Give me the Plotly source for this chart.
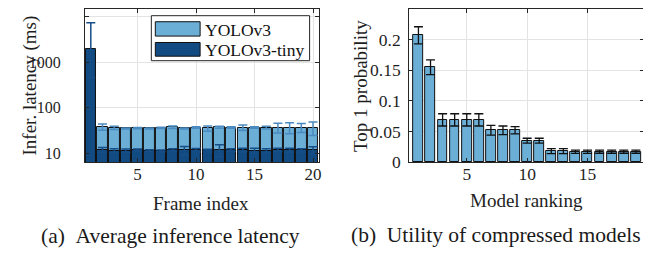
import plotly.graph_objects as go

# ---------------- data ----------------
frames = list(range(1, 21))
yolov3 = [1800, 37.7, 35.9, 34.8, 35.4, 34.8, 35.9, 37.1, 34.8, 36.5,
          34.8, 37.1, 36.5, 36.5, 36.5, 36.5, 36.5, 36.5, 36.5, 36.5]
yolov3_err = [0, 6, 3, 1, 1, 1, 1, 2.5, 1, 1.5,
              4.5, 2, 1.5, 5, 1.5, 2.5, 9, 10, 8, 12]
tiny = [1930, 11.8, 11.2, 11.3, 11.8, 11.3, 11.2, 11.6, 11.4, 11.6,
        11.4, 11.8, 11.6, 11.7, 11.3, 11.2, 11.8, 11.6, 11.5, 11.7]
tiny_err_plus = [5470, 1.5, 1.2, 1.0, 0.5, 0.5, 0.5, 0.8, 2.5, 1.0,
                 0.8, 3.5, 0.8, 1.0, 1.5, 1.2, 1.0, 1.2, 1.0, 2.0]
tiny_err_minus = [1470, 1.5, 1.2, 1.0, 0.5, 0.5, 0.5, 0.8, 2.5, 1.0,
                  0.8, 3.5, 0.8, 1.0, 1.5, 1.2, 1.0, 1.2, 1.0, 2.0]

ranks = list(range(1, 20))
prob = [0.207, 0.155, 0.069, 0.069, 0.069, 0.069, 0.052, 0.052, 0.052, 0.035,
        0.035, 0.018, 0.018, 0.017, 0.017, 0.017, 0.017, 0.017, 0.017]
prob_err = [0.014, 0.012, 0.010, 0.010, 0.010, 0.010, 0.008, 0.007, 0.006, 0.004,
            0.004, 0.004, 0.004, 0.0027, 0.0027, 0.0025, 0.0025, 0.0025, 0.0025]

left_yticks = [10, 100, 1000, 10000]
left_yticklabels = ["10", "100", "1000", ""]
left_xticks = [5, 10, 15, 20]
right_xticks = [5, 10, 15]
right_yticks = [0, 0.05, 0.1, 0.15, 0.2]
right_yticklabels = ["0", "0.05", "0.1", "0.15", "0.2"]

LIGHT = "#6BAED6"
DARK = "#124A82"
FONT = "Liberation Serif, Times New Roman, serif"
AX = "#262626"
TXT = "#1E1E1E"
W, H = 651, 257

fig = go.Figure()
fig.add_trace(go.Bar(
    x=frames, y=yolov3, width=0.9, name="YOLOv3",
    marker=dict(color=LIGHT, line=dict(color="#111111", width=1)),
    error_y=dict(type="data", array=yolov3_err, color="#4A8AC0", thickness=1.5, width=4.5),
    xaxis="x", yaxis="y", showlegend=False))
fig.add_trace(go.Bar(
    x=frames, y=tiny, width=0.9, name="YOLOv3-tiny",
    marker=dict(color=DARK, line=dict(color="#111111", width=1)),
    error_y=dict(type="data", symmetric=False, array=tiny_err_plus,
                 arrayminus=tiny_err_minus, color="#164E88", thickness=1.5, width=4.5),
    xaxis="x", yaxis="y", showlegend=False))
fig.add_trace(go.Bar(
    x=ranks, y=prob, width=0.82,
    marker=dict(color=LIGHT, line=dict(color="#111111", width=1)),
    error_y=dict(type="data", array=prob_err, color="#111111", thickness=1.3, width=4.5),
    xaxis="x2", yaxis="y2", showlegend=False))

def px_x(p):
    return p / W

def px_y(p):
    return 1 - p / H

y_dom = [px_y(160), 1.0]
common = dict(showline=True, mirror="ticks", linecolor=AX, linewidth=1,
              ticks="inside", ticklen=4, tickcolor=AX,
              showgrid=True, gridcolor="#E3E3E3", gridwidth=1, zeroline=False)

fig.update_layout(
    width=W, height=H, margin=dict(l=0, r=0, t=0, b=0),
    plot_bgcolor="white", paper_bgcolor="white",
    font=dict(family=FONT),
    barmode="overlay", bargap=0,
    xaxis=dict(domain=[px_x(77.3), px_x(312.3)], range=[0.5, 20.5],
               tickvals=left_xticks, anchor="y", ticklabelstandoff=-4,
               tickfont=dict(family=FONT, size=17, color=TXT), **common),
    yaxis=dict(domain=y_dom, type="log", range=[0.80, 4.17],
               tickvals=left_yticks, ticktext=left_yticklabels, anchor="x",
               ticklabelstandoff=20, tickfont=dict(family=FONT, size=16, color=TXT), **common),
    xaxis2=dict(domain=[px_x(403), px_x(639)], range=[0.23, 19.68],
                tickvals=right_xticks, anchor="y2", ticklabelstandoff=-4,
                tickfont=dict(family=FONT, size=17.5, color=TXT), **common),
    yaxis2=dict(domain=y_dom, range=[0, 0.25], tickvals=right_yticks,
                ticktext=right_yticklabels, anchor="x2", ticklabelstandoff=4,
                tickfont=dict(family=FONT, size=17.5, color=TXT), **common),
)

ann = []
def text(x, y, s, size, angle=0, xanchor="center", color=TXT):
    ann.append(dict(x=px_x(x), y=px_y(y), xref="paper", yref="paper", text=s,
                    showarrow=False, textangle=angle, xanchor=xanchor, yanchor="middle",
                    font=dict(family=FONT, size=size, color=color)))

text(194, 203, "Frame index", 19)
text(521, 200, "Model ranking", 19)
text(22, 80, "Infer. latency (ms)", 19, angle=-90)
text(354, 80, "Top 1 probability", 19, angle=-90)
text(163, 237, "(a)&nbsp;&nbsp;Average inference latency", 21.5, color="#1A1A1A")
text(490, 236, "(b)&nbsp;&nbsp;Utility of compressed models", 21.5, color="#1A1A1A")

# manual legend (box + patches + labels)
shapes = [
    dict(type="rect", xref="paper", yref="paper", x0=px_x(144), x1=px_x(303),
         y0=px_y(54), y1=px_y(7), fillcolor="white", line=dict(color=AX, width=1), layer="above"),
    dict(type="rect", xref="paper", yref="paper", x0=px_x(148), x1=px_x(193),
         y0=px_y(28.3), y1=px_y(13.3), fillcolor=LIGHT, line=dict(color="#111111", width=1), layer="above"),
    dict(type="rect", xref="paper", yref="paper", x0=px_x(148), x1=px_x(193),
         y0=px_y(49.3), y1=px_y(35), fillcolor=DARK, line=dict(color="#111111", width=1), layer="above"),
]
text(196, 21.5, "YOLOv3", 17.5, xanchor="left", color="#111111")
text(196, 42.5, "YOLOv3-tiny", 17.5, xanchor="left", color="#111111")

fig.update_layout(annotations=ann, shapes=shapes)
fig.write_html("out.html")
